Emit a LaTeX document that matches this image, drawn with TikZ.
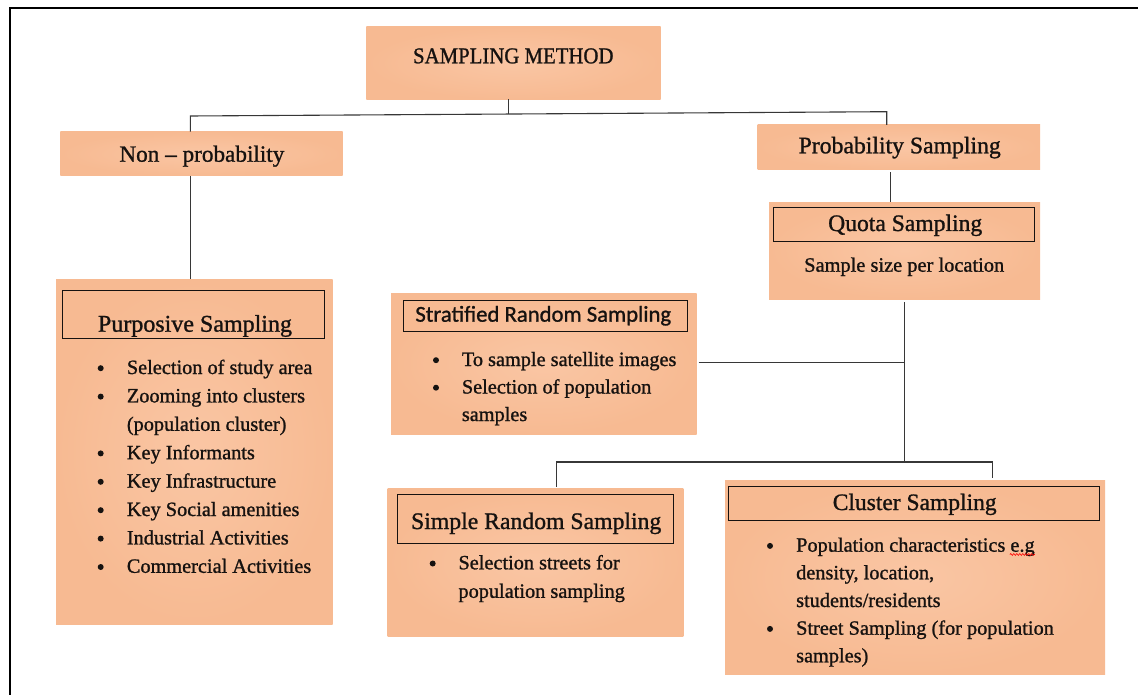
\documentclass[tikz,border=0pt]{standalone}
\usepackage{fontspec}
\setmainfont{Liberation Serif}[FakeBold=1.1]
\newfontfamily\calibrifont{Carlito}[FakeBold=1.1]
\newfontfamily\capsfont{Liberation Serif}[FakeBold=1.1,FakeStretch=0.92]
\usetikzlibrary{decorations.pathmorphing}

\definecolor{peach}{RGB}{247,186,146}
\definecolor{peachL}{RGB}{250,198,164}
\definecolor{ink}{RGB}{22,18,16}
\definecolor{wire}{RGB}{55,55,55}

\newcommand\setfs[1]{\fontsize{#1}{#1}\selectfont}

\begin{document}
\begin{tikzpicture}[x=1pt,y=-1pt,
  box/.style={rectangle,inner sep=0pt,outer sep=0pt,shade,shading=radial,
              inner color=peachL,outer color=peach},
  tbox/.style={rectangle,draw=ink,line width=1pt,inner sep=0pt,outer sep=0pt},
  ttl/.style={inner sep=0pt,anchor=base,text=ink},
  ln/.style={inner sep=0pt,anchor=base west,text=ink,font=\setfs{20.3}},
  bul/.style={circle,fill=ink,inner sep=0pt,minimum size=6pt},
  wire/.style={draw=wire,line width=1.1pt}]

\useasboundingbox (0,0) rectangle (1138,695);

% outer frame (left and top edges)
\draw[line width=2pt,black] (9.5,695) -- (9.5,8.5) -- (1138,8.5);

% ---------- filled boxes ----------
\node[box,minimum width=294.4pt,minimum height=72.6pt] (sm) at (513.5,63) {};
\node[box,minimum width=282.4pt,minimum height=44.3pt] (np) at (201.5,153.85) {};
\node[box,minimum width=282.3pt,minimum height=44.3pt] (pr) at (898.85,147.15) {};
\node[box,minimum width=271pt,minimum height=96.7pt] (qu) at (904.5,250.65) {};
\node[box,minimum width=276.7pt,minimum height=344.7pt] (pu) at (194.35,451.65) {};
\node[box,minimum width=305.7pt,minimum height=141pt] (st) at (543.85,363.8) {};
\node[box,minimum width=295.6pt,minimum height=148.4pt] (sr) at (535.5,562.5) {};
\node[box,minimum width=380pt,minimum height=193.3pt] (cl) at (915,577.35) {};

% ---------- framed heading strips ----------
\node[tbox,minimum width=260.3pt,minimum height=34pt] (quT) at (903.85,224.3) {};
\node[tbox,minimum width=261.3pt,minimum height=47.6pt] (puT) at (193.35,314.5) {};
\node[tbox,minimum width=284pt,minimum height=31pt] (stT) at (545.3,316.2) {};
\node[tbox,minimum width=275.7pt,minimum height=48.7pt] (srT) at (535.15,518.65) {};
\node[tbox,minimum width=371pt,minimum height=34pt] (clT) at (913.8,503.7) {};

% ---------- headings ----------
\node[ttl,font=\capsfont\setfs{22.6}] (smL) at (513.3,63.3) {SAMPLING METHOD};
\node[ttl,font=\setfs{23.2}] (npL) at (201.9,161.7) {Non – probability};
\node[ttl,font=\setfs{23.7}] (prL) at (899.7,153.3) {Probability Sampling};
\node[ttl,font=\setfs{23.6}] (quL) at (905.2,231) {Quota Sampling};
\node[ttl,font=\setfs{20.4}] (quS) at (904.2,271.7) {Sample size per location};
\node[ttl,font=\setfs{24}] (puL) at (195,331.7) {Purposive Sampling};
\node[ttl,font=\calibrifont\setfs{22.7}] (stL) at (543.3,321.7) {Stratified Random Sampling};
\node[ttl,font=\setfs{23.7}] (srL) at (536.2,529) {Simple Random Sampling};
\node[ttl,font=\setfs{23.5}] (clL) at (914.7,510) {Cluster Sampling};

% ---------- purposive sampling list ----------
\node[bul] (puB1) at (100.7,368.2) {};
\node[ln] (pu1) at (126.7,374) {Selection of study area};
\node[bul] (puB2) at (100.7,396.6) {};
\node[ln] (pu2) at (126.7,402.4) {Zooming into clusters};
\node[ln] (pu3) at (126.7,430.8) {(population cluster)};
\node[bul] (puB4) at (100.7,453.4) {};
\node[ln] (pu4) at (126.7,459.2) {Key Informants};
\node[bul] (puB5) at (100.7,481.8) {};
\node[ln] (pu5) at (126.7,487.6) {Key Infrastructure};
\node[bul] (puB6) at (100.7,510.2) {};
\node[ln] (pu6) at (126.7,516) {Key Social amenities};
\node[bul] (puB7) at (100.7,538.6) {};
\node[ln] (pu7) at (126.7,544.4) {Industrial Activities};
\node[bul] (puB8) at (100.7,567) {};
\node[ln] (pu8) at (126.7,572.8) {Commercial Activities};

% ---------- stratified random sampling list ----------
\node[bul] (stB1) at (436,360.2) {};
\node[ln] (st1) at (461.7,366) {To sample satellite images};
\node[bul] (stB2) at (436,387.7) {};
\node[ln] (st2) at (461.7,393.5) {Selection of population};
\node[ln] (st3) at (461.7,421) {samples};

% ---------- simple random sampling list ----------
\node[bul] (srB1) at (432.7,563.5) {};
\node[ln] (sr1) at (458.3,569.3) {Selection streets for};
\node[ln] (sr2) at (458.3,597.8) {population sampling};

% ---------- cluster sampling list ----------
\node[bul] (clB1) at (770,545.9) {};
\node[ln] (cl1) at (796,551.7) {Population characteristics e.g};
\node[ln] (cl2) at (796,579.3) {density, location,};
\node[ln] (cl3) at (796,607) {students/residents};
\node[bul] (clB4) at (770,628.9) {};
\node[ln] (cl4) at (796,634.7) {Street Sampling (for population};
\node[ln] (cl5) at (796,662.3) {samples)};

% spell-check squiggle under "e.g"
\draw[red,line width=0.6pt,decorate,
      decoration={snake,amplitude=0.9pt,segment length=3pt}]
  ([xshift=-25pt,yshift=-2.8pt]cl1.base east) -- ([yshift=-2.8pt]cl1.base east);

% ---------- connectors ----------
\coordinate (busL) at (190.3,116);
\coordinate (busM) at (508.7,114);
\coordinate (busR) at (886.7,111.7);
\draw[wire] (busM |- sm.south) -- (busM);
\draw[wire] (np.north -| busL) -- (busL) -- (busR) -- (pr.north -| busR);
\draw[wire] (np.south -| busL) -- (pu.north -| busL);

\coordinate (pq) at (890.5,0);
\draw[wire,shorten <=3pt] (pr.south -| pq) -- (qu.north -| pq);

\coordinate (j1) at (904.5,362.5);
\coordinate (b2L) at (556.7,462);
\coordinate (b2M) at (904.5,462);
\coordinate (b2R) at (992.3,462);
\draw[wire,shorten <=3pt] (qu.south -| b2M) -- (b2M);
\draw[wire,shorten <=2pt] (st.east |- j1) -- (j1);
\draw[wire,shorten <=1.5pt,shorten >=2.5pt]
  (sr.north -| b2L) -- (b2L) -- (b2R) -- (cl.north -| b2R);

\end{tikzpicture}
\end{document}
